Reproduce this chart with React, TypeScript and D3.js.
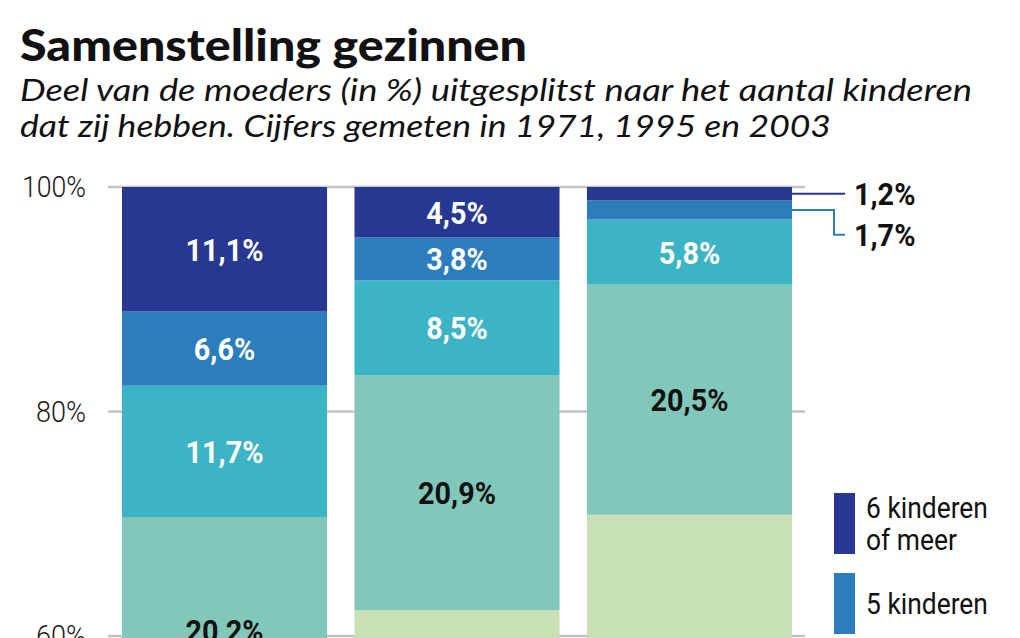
import React from "react";
import * as d3 from "d3";

const years = ["1971", "1995", "2003"];
const categories = ["1 kind", "2 kinderen", "3 kinderen", "4 kinderen", "5 kinderen", "6 kinderen of meer"];
// values per category, one per year (lower two are below the visible area; estimated)
const oneChild = [18.4, 17.3, 21.3];
const twoChildren = [32.0, 45.0, 49.5];
const threeChildren = [20.2, 20.9, 20.5];
const fourChildren = [11.7, 8.5, 5.8];
const fiveChildren = [6.6, 3.8, 1.7];
const sixPlus = [11.1, 4.5, 1.2];
const yTicks = [60, 80, 100];
const legendLabels = [["6 kinderen", "of meer"], ["5 kinderen"], ["4 kinderen"], ["3 kinderen"], ["2 kinderen"], ["1 kind"]];

const seriesValues = [oneChild, twoChildren, threeChildren, fourChildren, fiveChildren, sixPlus];
const colors = ["#e4eed6", "#c9e0b5", "#82c8ba", "#3db4c6", "#2b7dbb", "#263891"];
const labelColors = ["#111", "#111", "#111", "#fff", "#fff", "#fff"];

const W = 1020;
const H = 638;
const cond = "Roboto, 'Noto Sans', sans-serif";
const titleFont = "Lato, 'Noto Sans', sans-serif";

function CText(props: any) {
  const { x, y, sx = 0.88, children, ...rest } = props;
  return (
    <text transform={`translate(${x},${y}) scale(${sx},1)`} {...rest}>
      {children}
    </text>
  );
}

export default function App() {
  const rows = years.map((yr, i) => {
    const r: any = { year: yr };
    categories.forEach((c, k) => (r[c] = seriesValues[k][i]));
    return r;
  });
  const stack = d3.stack<any>().keys(categories)(rows);
  const x = d3.scaleBand().domain(years).range([122, 792]).paddingInner(0.118).paddingOuter(0);
  const y = d3.scaleLinear().domain([60, 100]).range([636, 187]);
  const bw = x.bandwidth();

  const segs: any[] = [];
  stack.forEach((s, k) => {
    s.forEach((d, i) => {
      const v = seriesValues[k][i];
      const y0 = y(d[1]);
      const y1 = y(d[0]);
      const label = v.toFixed(1).replace(".", ",") + "%";
      segs.push({ k, i, x: x(years[i])!, y0, y1, label, v });
    });
  });
  const small = segs.filter((s) => s.y1 - s.y0 <= 30).sort((a, b) => a.y0 - b.y0);

  return (
    <svg width={W} height={H} style={{ position: "absolute", left: 0, top: 0, background: "#fff" }}>
      <rect x={0} y={0} width={W} height={H} fill="#fff" />
      <text x={20} y={61} fontFamily={titleFont} fontWeight={900} fontSize={44} fill="#111"
        textLength={507} lengthAdjust="spacingAndGlyphs">
        Samenstelling gezinnen
      </text>
      <text x={20} y={101} fontFamily={titleFont} fontStyle="italic" fontSize={30} fill="#111"
        textLength={952} lengthAdjust="spacingAndGlyphs">
        Deel van de moeders (in %) uitgesplitst naar het aantal kinderen
      </text>
      <text x={20} y={137} fontFamily={titleFont} fontStyle="italic" fontSize={30} fill="#111"
        textLength={811} lengthAdjust="spacingAndGlyphs">
        dat zij hebben. Cijfers gemeten in 1971, 1995 en 2003
      </text>

      {yTicks.map((t) => {
        const s = `${t}%`;
        return (
          <g key={t}>
            <line x1={108} x2={805} y1={y(t)} y2={y(t)} stroke="#c4c4c4" strokeWidth={2.5} />
            <text x={86} y={y(t) + 10} textAnchor="end" fontFamily={cond} fontWeight={300} fontSize={29} fill="#1a1a1a"
              textLength={(s.length - 1) * 14 + 22} lengthAdjust="spacingAndGlyphs">
              {s}
            </text>
          </g>
        );
      })}

      {segs.map((s, idx) => (
        <rect key={idx} x={s.x} y={s.y0} width={bw} height={s.y1 - s.y0} fill={colors[s.k]} />
      ))}

      {segs.map((s, idx) => {
        const h = s.y1 - s.y0;
        if (h > 30) {
          return (
            <CText key={"l" + idx} x={s.x + bw / 2} y={(s.y0 + s.y1) / 2 + 11.5} sx={0.9} textAnchor="middle"
              fontFamily={cond} fontWeight={700} fontSize={32} fill={labelColors[s.k]}>
              {s.label}
            </CText>
          );
        }
        return null;
      })}

      {small.map((s, j) => {
        const my = (s.y0 + s.y1) / 2;
        const right = s.x + bw;
        const ly = (small[0].y0 + small[0].y1) / 2 + j * 41;
        const path = j === 0 ? `M${right},${my}H845` : `M${right},${my}H834V${ly}H845`;
        return (
          <g key={"o" + j}>
            <path d={path} fill="none" stroke={colors[s.k]} strokeWidth={2} />
            <CText x={854} y={ly + 11.5} sx={0.9} fontFamily={cond} fontWeight={700} fontSize={32} fill="#111">
              {s.label}
            </CText>
          </g>
        );
      })}

      {legendLabels.map((lines, j) => {
        const top = 493 + j * 80;
        const k = categories.length - 1 - j;
        const mid = top + 30.5;
        const first = mid + 10.5 - (lines.length - 1) * 16;
        return (
          <g key={"lg" + j}>
            <rect x={834} y={top} width={21} height={61} fill={colors[k]} />
            {lines.map((ln, m) => (
              <CText key={m} x={866} y={first + m * 32} fontFamily={cond} fontSize={30} fill="#111">
                {ln}
              </CText>
            ))}
          </g>
        );
      })}
    </svg>
  );
}
